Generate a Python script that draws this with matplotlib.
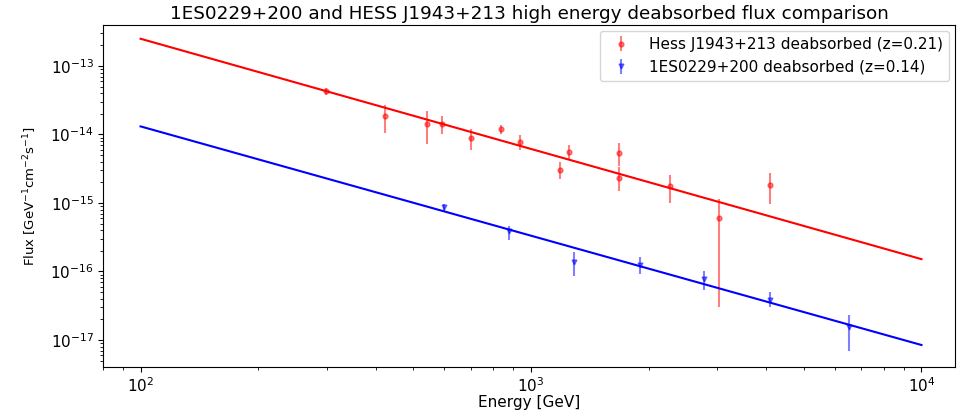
import numpy as np
import matplotlib.pyplot as plt

# HESS J1943+213 deabsorbed points
hess_E = [299, 423, 541, 591, 702, 838, 937, 1187, 1250, 1679, 1679, 2270, 3028, 4093]
hess_F = [4.26e-14, 1.85e-14, 1.41e-14, 1.41e-14, 8.73e-15, 1.19e-14, 7.88e-15,
          2.99e-15, 5.5e-15, 5.37e-15, 2.31e-15, 1.75e-15, 5.99e-16, 1.82e-15]
hess_hi = [4.71e-14, 2.68e-14, 2.19e-14, 1.85e-14, 1.2e-14, 1.36e-14, 9.8e-15,
           3.9e-15, 7.1e-15, 7.5e-15, 3.4e-15, 2.6e-15, 1.15e-15, 2.7e-15]
hess_lo = [3.76e-14, 1.04e-14, 7.2e-15, 1.03e-14, 6.0e-15, 1.0e-14, 5.9e-15,
           2.2e-15, 4.2e-15, 3.5e-15, 1.5e-15, 1.0e-15, 3.08e-17, 9.8e-16]

# 1ES0229+200 deabsorbed points
es_E = [599, 879, 1291, 1897, 2781, 4093, 6517]
es_F = [8.79e-16, 3.86e-16, 1.36e-16, 1.24e-16, 7.66e-17, 3.86e-17, 1.53e-17]
es_hi = [9.75e-16, 4.57e-16, 1.93e-16, 1.63e-16, 1.01e-16, 5.0e-17, 2.33e-17]
es_lo = [7.6e-16, 2.85e-16, 8.67e-17, 9.27e-17, 5.32e-17, 3.01e-17, 6.97e-18]

# power law fits: F = norm * (E/100)^-index
hess_norm, hess_index = 2.49e-13, 1.608
es_norm, es_index = 1.31e-14, 1.595

def yerr(f, lo, hi):
    f, lo, hi = np.array(f), np.array(lo), np.array(hi)
    return [f - lo, hi - f]

E = np.logspace(2, 4, 100)

fig = plt.figure(figsize=(9.6, 4.13), dpi=100)
ax = fig.add_axes([0.107, 0.111, 0.888, 0.829])

ax.errorbar(hess_E, hess_F, yerr=yerr(hess_F, hess_lo, hess_hi), fmt='o', color='r',
            alpha=0.5, ms=3.5, label='Hess J1943+213 deabsorbed (z=0.21)')
ax.errorbar(es_E, es_F, yerr=yerr(es_F, es_lo, es_hi), fmt='v', color='b',
            alpha=0.5, ms=3.5, label='1ES0229+200 deabsorbed (z=0.14)')
ax.plot(E, hess_norm * (E / 100) ** -hess_index, 'r-', lw=1.5)
ax.plot(E, es_norm * (E / 100) ** -es_index, 'b-', lw=1.5)

ax.set_xscale('log')
ax.set_yscale('log')
ax.set_xlim(80, 12200)
ax.set_ylim(10 ** -17.396, 10 ** -12.4)
ax.tick_params(labelsize=11, pad=3)
ax.set_xlabel('Energy [GeV]', fontsize=11, labelpad=0)
ax.set_ylabel(r'Flux [GeV$^{-1}$cm$^{-2}$s$^{-1}$]', fontsize=9.5, labelpad=8)
ax.set_title('1ES0229+200 and HESS J1943+213 high energy deabsorbed flux comparison',
             fontsize=13.2, pad=4)
ax.legend(loc='upper right', fontsize=11, borderaxespad=0.4)

plt.savefig('out.png')
